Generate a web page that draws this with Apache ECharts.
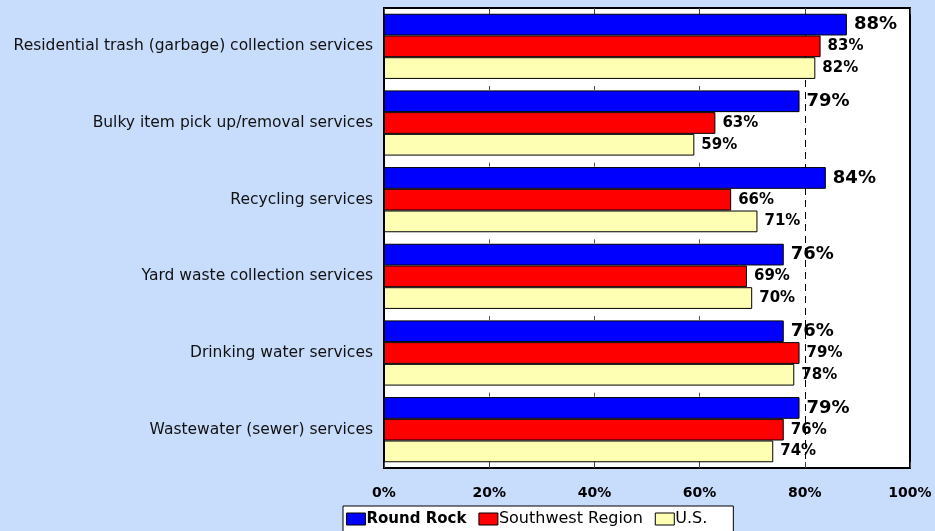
<!DOCTYPE html>
<html>
<head>
<meta charset="utf-8">
<script src="https://cdn.jsdelivr.net/npm/echarts@6/dist/echarts.min.js"></script>
<style>
  html, body { margin: 0; padding: 0; background: #C8DCFC; }
  #chart { width: 935px; height: 531px; }
</style>
</head>
<body>
<div id="chart"></div>
<script>
// Service categories (top to bottom)
const categories = [
  'Residential trash (garbage) collection services',
  'Bulky item pick up/removal services',
  'Recycling services',
  'Yard waste collection services',
  'Drinking water services',
  'Wastewater (sewer) services'
];
const seriesNames = ['Round Rock', 'Southwest Region', 'U.S.'];
const roundRock = [88, 79, 84, 76, 76, 79];
const southwest = [83, 63, 66, 69, 79, 76];
const us = [82, 59, 71, 70, 78, 74];
const tickValues = [0, 20, 40, 60, 80, 100];
const referenceLine = 80;

const colors = ['#0000FF', '#FF0000', '#FFFFB4'];
const font = 'DejaVu Sans, Verdana, sans-serif';

const chart = echarts.init(document.getElementById('chart'));

function barSeries(name, data, color, big) {
  return {
    name: name,
    type: 'bar',
    xAxisIndex: 0,
    data: data,
    barGap: '0%',
    barCategoryGap: '15%',
    itemStyle: { color: color, borderColor: '#000', borderWidth: 1 },
    label: {
      show: true,
      position: 'right',
      distance: 7,
      formatter: '{c}%',
      fontFamily: font,
      fontWeight: 'bold',
      fontSize: big ? 18 : 15,
      color: '#000'
    },
    emphasis: { disabled: true }
  };
}

const axisMin = tickValues[0];
const axisMax = tickValues[tickValues.length - 1];
const step = tickValues[1] - tickValues[0];
const gridColors = tickValues.map(function (v) {
  return (v === axisMin || v === axisMax || v === referenceLine) ? 'transparent' : '#555';
});

chart.setOption({
  backgroundColor: '#C8DCFC',
  animation: false,
  grid: {
    left: 384, right: 25, top: 8, bottom: 63,
    show: true, backgroundColor: '#FFFFFF', borderColor: '#000', borderWidth: 2
  },
  legend: {
    data: seriesNames,
    left: 343, top: 506,
    backgroundColor: '#FFFFFF',
    borderColor: '#000', borderWidth: 1,
    padding: [5, 26, 8, 3],
    itemWidth: 19, itemHeight: 12, itemGap: 12,
    icon: 'rect',
    itemStyle: { borderColor: '#000', borderWidth: 1 },
    textStyle: {
      fontFamily: font, fontSize: 16, color: '#000', padding: [0, 0, 0, -4],
      rich: { b: { fontFamily: font, fontSize: 15, fontWeight: 'bold', color: '#000' } }
    },
    formatter: function (n) { return n === 'Round Rock' ? '{b|' + n + '}' : n; }
  },
  xAxis: [
    {
      type: 'value', position: 'bottom',
      min: axisMin, max: axisMax, interval: step,
      axisLine: { show: false },
      axisTick: { show: true, inside: true, length: 6, lineStyle: { color: '#444' } },
      splitLine: {
        show: true,
        lineStyle: { color: gridColors, width: 1, type: [4, 72.67], dashOffset: 75.33 }
      },
      axisLabel: {
        formatter: '{value}%', margin: 18,
        fontFamily: font, fontWeight: 'bold', fontSize: 14, color: '#000'
      }
    },
    {
      type: 'value', position: 'top',
      min: axisMin, max: axisMax, interval: step,
      axisLine: { show: false },
      axisTick: { show: true, inside: true, length: 6, lineStyle: { color: '#444' } },
      axisLabel: { show: false },
      splitLine: { show: false }
    },
    {
      type: 'value', position: 'top',
      min: axisMin, max: axisMax, interval: referenceLine,
      axisLine: { show: false }, axisTick: { show: false }, axisLabel: { show: false },
      splitLine: {
        show: true,
        lineStyle: { color: ['transparent', '#000', 'transparent'], type: [7, 5], width: 1 }
      }
    }
  ],
  yAxis: {
    type: 'category',
    data: categories,
    inverse: true,
    axisLine: { show: false },
    axisTick: { show: false },
    splitLine: { show: false },
    axisLabel: { margin: 11, fontFamily: font, fontSize: 15.5, color: '#111' }
  },
  series: [
    barSeries(seriesNames[0], roundRock, colors[0], true),
    barSeries(seriesNames[1], southwest, colors[1], false),
    barSeries(seriesNames[2], us, colors[2], false)
  ]
});
</script>
</body>
</html>
